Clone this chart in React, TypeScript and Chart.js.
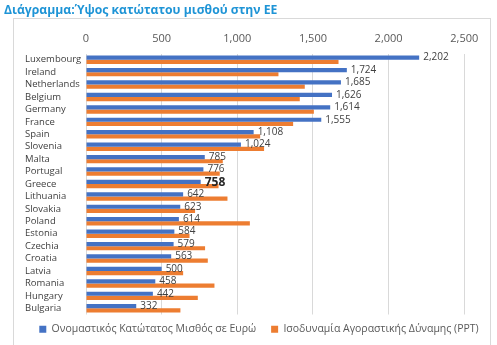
import React, { useEffect, useRef } from "react";
import { Chart, registerables } from "chart.js";

Chart.register(...registerables);

const countries = [
  "Luxembourg", "Ireland", "Netherlands", "Belgium", "Germany", "France", "Spain",
  "Slovenia", "Malta", "Portugal", "Greece", "Lithuania", "Slovakia", "Poland",
  "Estonia", "Czechia", "Croatia", "Latvia", "Romania", "Hungary", "Bulgaria",
];
const nominalEuro = [
  2202, 1724, 1685, 1626, 1614, 1555, 1108, 1024, 785, 776, 758, 642, 623, 614,
  584, 579, 563, 500, 458, 442, 332,
];
const pppValues = [
  1669, 1272, 1446, 1413, 1506, 1369, 1151, 1177, 904, 884, 876, 935, 721, 1083,
  684, 787, 805, 642, 849, 739, 624,
];
const xTickValues = [0, 500, 1000, 1500, 2000, 2500];
const seriesNames = [
  "Ονομαστικός Κατώτατος Μισθός σε Ευρώ",
  "Ισοδυναμία Αγοραστικής Δύναμης (PPT)",
];
const titleText = "Διάγραμμα:Ύψος κατώτατου μισθού στην ΕΕ";
const highlighted = "Greece";

const FONT = "'Open Sans', 'Noto Sans', sans-serif";

const framePlugin = {
  id: "frameTitle",
  beforeDraw(chart: any) {
    const ctx = chart.ctx;
    ctx.save();
    ctx.fillStyle = "#ffffff";
    ctx.fillRect(0, 0, chart.width, chart.height);
    ctx.strokeStyle = "#d9d9d9";
    ctx.lineWidth = 1;
    ctx.strokeRect(13.5, 18.5, 477, 400);
    ctx.fillStyle = "#1e94d6";
    ctx.font = `bold 12.2px ${FONT}`;
    ctx.textBaseline = "alphabetic";
    ctx.textAlign = "left";
    ctx.fillText(titleText, 4, 14);
    ctx.restore();
  },
};

const labelPlugin = {
  id: "valueLabels",
  afterDatasetsDraw(chart: any) {
    const ctx = chart.ctx;
    const meta = chart.getDatasetMeta(0);
    ctx.save();
    ctx.textAlign = "left";
    ctx.textBaseline = "middle";
    meta.data.forEach((bar: any, i: number) => {
      const isHi = countries[i] === highlighted;
      ctx.font = isHi ? `bold 12px ${FONT}` : `10px ${FONT}`;
      ctx.fillStyle = isHi ? "#262626" : "#404040";
      ctx.fillText(nominalEuro[i].toLocaleString("en-US"), bar.x + 4, bar.y + (isHi ? 1 : 0));
    });
    ctx.restore();
  },
};

export default function App() {
  const ref = useRef<HTMLCanvasElement>(null);
  useEffect(() => {
    if (!ref.current) return;
    const chart = new Chart(ref.current, {
      type: "bar",
      data: {
        labels: countries,
        datasets: [
          { label: seriesNames[0], data: nominalEuro, backgroundColor: "#4472c4" },
          { label: seriesNames[1], data: pppValues, backgroundColor: "#ed7d31" },
        ],
      },
      options: {
        indexAxis: "y",
        animation: false,
        responsive: false,
        maintainAspectRatio: false,
        layout: { padding: { left: 25, right: 4, top: 20, bottom: 0.5 } },
        datasets: { bar: { categoryPercentage: 0.68, barPercentage: 1.0 } },
        scales: {
          x: {
            position: "top",
            min: 0,
            max: 2690,
            border: { display: false },
            grid: { color: "#d9d9d9", drawTicks: false },
            afterBuildTicks: (s: any) => {
              s.ticks = xTickValues.map((v) => ({ value: v }));
            },
            ticks: {
              padding: 8,
              color: "#595959",
              font: { family: FONT, size: 11 },
              callback: (v: any) => Number(v).toLocaleString("en-US"),
            },
            afterFit: (s: any) => { s.height = 33.5; },
          },
          y: {
            grid: { display: false },
            border: { display: false },
            ticks: {
              crossAlign: "far",
              color: "#404040",
              font: { family: FONT, size: 9.5 },
              autoSkip: false,
            },
            afterFit: (s: any) => { s.width = 61; },
          },
        },
        plugins: {
          legend: {
            position: "bottom",
            labels: {
              boxWidth: 7,
              boxHeight: 7,
              padding: 9.5,
              color: "#595959",
              font: { family: FONT, size: 10.5 },
              generateLabels: (c: any) => {
                const items = Chart.defaults.plugins.legend.labels.generateLabels(c);
                items[0].text = items[0].text + "\u00A0\u00A0";
                items.forEach((it: any) => { it.lineWidth = 0; });
                return items;
              },
            },
          },
          tooltip: { enabled: false },
        },
      },
      plugins: [framePlugin, labelPlugin],
    });
    return () => chart.destroy();
  }, []);
  return (
    <div style={{ position: "fixed", left: 0, top: 0, width: 497, height: 345, background: "#fff" }}>
      <canvas ref={ref} width={497} height={345} style={{ display: "block" }} />
    </div>
  );
}
